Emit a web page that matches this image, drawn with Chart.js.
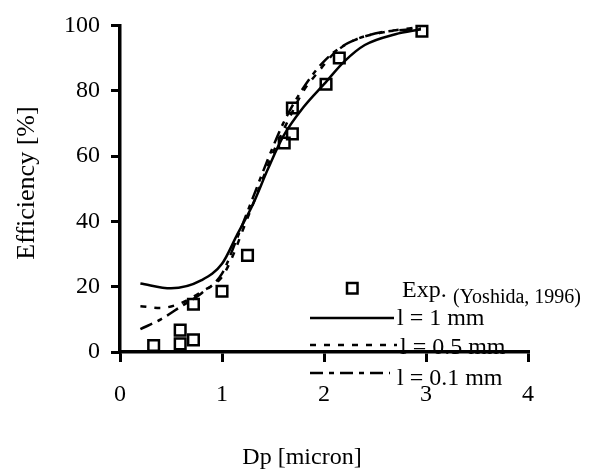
<!DOCTYPE html>
<html>
<head>
<meta charset="utf-8">
<script src="https://cdn.jsdelivr.net/npm/chart.js@4/dist/chart.umd.min.js"></script>
<style>
  body { margin: 0; background: #fff; }
  #wrap { width: 595px; height: 476px; }
</style>
</head>
<body>
<div id="wrap"><canvas id="chart" width="595" height="476"></canvas></div>
<script>
// Experimental points (Yoshida, 1996)
const expX = [0.33, 0.59, 0.59, 0.72, 0.72, 1.0, 1.25, 1.61, 1.69, 1.69, 2.02, 2.15, 2.96];
const expY = [2, 6.7, 2.5, 3.7, 14.6, 18.6, 29.6, 64, 66.8, 74.7, 82, 90, 98.2];

// Model curves
const l1X = [0.2, 0.5, 0.8, 1.0, 1.15, 1.3, 1.45, 1.6, 1.8, 2.0, 2.2, 2.4, 2.7, 2.95];
const l1Y = [21, 19.5, 22, 27, 36, 45, 56, 66, 75, 82, 89, 94, 97.3, 98.8];

const l05X = [0.2, 0.4, 0.6, 0.8, 1.0, 1.1, 1.2, 1.35, 1.5, 1.65, 1.8, 1.95, 2.1, 2.3, 2.6, 2.95];
const l05Y = [14, 13.5, 15, 18.5, 23, 29, 37, 49, 61, 71, 80, 86, 91.5, 95.5, 98, 99.5];

const l01X = [0.2, 0.4, 0.6, 0.8, 1.0, 1.15, 1.3, 1.45, 1.6, 1.8, 2.0, 2.2, 2.5, 2.95];
const l01Y = [7, 10, 14, 18, 24, 35, 47, 59, 70, 81, 89, 94, 97.5, 99];

const xTicks = [0, 1, 2, 3, 4];
const yTicks = [0, 20, 40, 60, 80, 100];

const toPoints = (xs, ys) => xs.map((x, i) => ({ x: x, y: ys[i] }));

const SERIF = "'Liberation Serif', 'Times New Roman', serif";

// legend + axis titles drawn on top of the chart
const overlay = {
  id: "overlay",
  afterDraw(chart) {
    const ctx = chart.ctx;
    ctx.save();
    ctx.fillStyle = "#000";
    ctx.strokeStyle = "#000";

    // axis titles
    ctx.font = "24px " + SERIF;
    ctx.textAlign = "center";
    ctx.textBaseline = "middle";
    ctx.fillText("Dp [micron]", 302, 458);
    ctx.save();
    ctx.translate(27, 183);
    ctx.rotate(-Math.PI / 2);
    ctx.font = "26px " + SERIF;
    ctx.fillText("Efficiency [%]", 0, 0);
    ctx.restore();

    // legend
    ctx.textAlign = "left";
    ctx.textBaseline = "alphabetic";
    ctx.lineWidth = 2.5;
    ctx.setLineDash([]);
    ctx.strokeRect(347, 283, 10.5, 10.5);
    ctx.font = "24px " + SERIF;
    ctx.fillText("Exp.", 402, 297);
    ctx.font = "20px " + SERIF;
    ctx.fillText("(Yoshida, 1996)", 453, 303);

    ctx.font = "24px " + SERIF;
    const rows = [
      { y: 318, x2: 394, dash: [], label: "l = 1 mm", tx: 397, ty: 325 },
      { y: 345, x2: 397, dash: [6, 8], label: "l = 0.5 mm", tx: 400, ty: 354 },
      { y: 373, x2: 390, dash: [13, 6, 5, 6], label: "l = 0.1 mm", tx: 397, ty: 385 },
    ];
    rows.forEach((r) => {
      ctx.setLineDash(r.dash);
      ctx.beginPath();
      ctx.moveTo(310, r.y);
      ctx.lineTo(r.x2, r.y);
      ctx.stroke();
      ctx.fillText(r.label, r.tx, r.ty);
    });
    ctx.restore();
  },
};

const lineDataset = (label, xs, ys, dash) => ({
  type: "line",
  label: label,
  data: toPoints(xs, ys),
  borderColor: "#000",
  borderWidth: 2.5,
  borderDash: dash,
  pointRadius: 0,
  fill: false,
  cubicInterpolationMode: "monotone",
  clip: false,
});

new Chart(document.getElementById("chart"), {
  type: "scatter",
  data: {
    datasets: [
      lineDataset("l = 1 mm", l1X, l1Y, []),
      lineDataset("l = 0.5 mm", l05X, l05Y, [6, 8]),
      lineDataset("l = 0.1 mm", l01X, l01Y, [13, 6, 5, 6]),
      {
        label: "Exp. (Yoshida, 1996)",
        data: toPoints(expX, expY),
        pointStyle: "rect",
        pointRadius: 7.5,
        pointBorderWidth: 2.5,
        borderColor: "#000",
        backgroundColor: "rgba(0,0,0,0)",
        clip: false,
      },
    ],
  },
  options: {
    responsive: false,
    animation: false,
    layout: { padding: { left: 0, right: 67, top: 24, bottom: 0 } },
    plugins: {
      legend: { display: false },
      tooltip: { enabled: false },
    },
    scales: {
      x: {
        type: "linear",
        min: 0,
        max: 4,
        afterBuildTicks: (scale) => {
          scale.ticks = xTicks.map((v) => ({ value: v }));
        },
        afterFit: (scale) => {
          scale.height = 124;
        },
        border: { color: "#000", width: 3.5 },
        grid: { drawOnChartArea: false, drawTicks: true, tickLength: 10, color: "#000", lineWidth: 3 },
        ticks: { color: "#000", padding: 18, font: { family: SERIF, size: 24 } },
      },
      y: {
        type: "linear",
        min: 0,
        max: 100,
        afterBuildTicks: (scale) => {
          scale.ticks = yTicks.map((v) => ({ value: v }));
        },
        afterFit: (scale) => {
          scale.width = 120;
        },
        border: { color: "#000", width: 3.5 },
        grid: { drawOnChartArea: false, drawTicks: true, tickLength: 9, color: "#000", lineWidth: 3 },
        ticks: { color: "#000", padding: 11, font: { family: SERIF, size: 24 } },
      },
    },
  },
  plugins: [overlay],
});
</script>
</body>
</html>
